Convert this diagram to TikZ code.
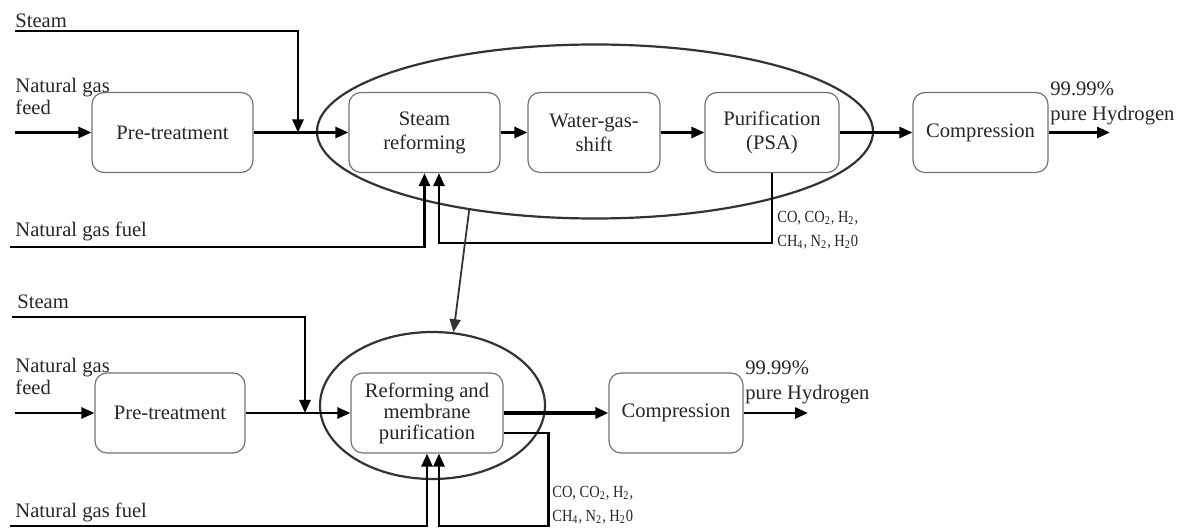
\documentclass[tikz,border=0pt]{standalone}
\usepackage{fontspec}
\setmainfont{Liberation Serif}
\newfontfamily\narrowserif[FakeStretch=0.85]{Liberation Serif}
\usetikzlibrary{arrows.meta,shapes.geometric}
\begin{document}
\begin{tikzpicture}[x=0.5pt,y=-0.5pt,
  font=\fontsize{10.3}{12}\selectfont,
  proc/.style={draw=black!55, line width=0.6pt, rounded corners=6pt, fill=white, align=center, inner sep=0pt, minimum height=40pt, text=black!85},
  flow/.style={line width=1.35pt, -{Triangle[length=6.5pt,width=5.5pt]}},
  ring/.style={draw=black!80, line width=1.1pt, ellipse, inner sep=0pt},
  lbl/.style={anchor=west, inner sep=0pt, align=left, text=black!85},
  small/.style={lbl, font=\narrowserif\fontsize{8.5}{12}\selectfont},
]
\useasboundingbox (0,0) rectangle (1185,529);

% ---------- top process ----------
\node[ring, minimum width=278pt, minimum height=87pt] (e1) at (595,131.5) {};
\node[proc, minimum width=80.5pt] (pre1) at (172.5,132.5) {Pre-treatment};
\node[proc, minimum width=75.5pt] (sr) at (424.5,132.5) {Steam\\reforming};
\node[proc, minimum width=66pt] (wgs) at (594,132.5) {Water-gas-\\shift};
\node[proc, minimum width=67pt] (psa) at (772,132.5) {Purification\\(PSA)};
\node[proc, minimum width=67.5pt] (comp1) at (980.5,132.5) {Compression};

\node[lbl] (steam1) at (15,21) {Steam};
\node[lbl, font=\fontsize{10.3}{11}\selectfont] (feed1) at (15,96) {Natural gas\\feed};
\node[lbl] (fuel1) at (15,231) {Natural gas fuel};
\node[lbl, font=\fontsize{10.3}{12.5}\selectfont] (h1) at (1050,103.5) {99.99\%\\pure Hydrogen};
\node[small] (g1) at (777,230) {CO, CO\textsubscript{2}, H\textsubscript{2},\\CH\textsubscript{4}, N\textsubscript{2}, H\textsubscript{2}0};

\coordinate (fin1) at (15,132.5);
\coordinate (st1) at (15,31);
\coordinate (st1c) at (298,31);
\coordinate (fu1) at (10,247);
\coordinate (rc1) at (439,243);
\coordinate (out1) at (1110,132.5);

\draw[flow] (fin1) -- (pre1.west);
\draw[flow] (pre1.east) -- (sr.west);
\draw[flow] (st1) -- (st1c) -- (st1c |- pre1.east);
\draw[flow] (sr.east) -- (wgs.west);
\draw[flow] (wgs.east) -- (psa.west);
\draw[flow] (psa.east) -- (comp1.west);
\draw[flow] (comp1.east) -- (out1);
\draw[flow] (fu1) -| (sr.south);
\draw[flow] (psa.south) |- (rc1) -- (rc1 |- sr.south);

% ---------- bottom process ----------
\node[ring, minimum width=112.5pt, minimum height=73.5pt] (e2) at (432.5,405.5) {};
\node[proc, minimum width=75pt] (pre2) at (170,413) {Pre-treatment};
\node[proc, minimum width=76pt, font=\fontsize{10.3}{10.5}\selectfont] (rm) at (427,413) {Reforming and\\membrane\\purification};
\node[proc, minimum width=67pt] (comp2) at (676,413) {Compression};

\node[lbl] (steam2) at (17,302) {Steam};
\node[lbl, font=\fontsize{10.3}{11}\selectfont] (feed2) at (15,376) {Natural gas\\feed};
\node[lbl] (fuel2) at (15,512) {Natural gas fuel};
\node[lbl, font=\fontsize{10.3}{12.5}\selectfont] (h2) at (745,382.5) {99.99\%\\pure Hydrogen};
\node[small] (g2) at (552,505) {CO, CO\textsubscript{2}, H\textsubscript{2},\\CH\textsubscript{4}, N\textsubscript{2}, H\textsubscript{2}0};

\coordinate (fin2) at (15,413);
\coordinate (st2) at (12,317);
\coordinate (st2c) at (305,317);
\coordinate (fu2) at (10,526);
\coordinate (rc2) at (439,526);
\coordinate (out2) at (808,413);

\draw[flow] (fin2) -- (pre2.west);
\draw[flow] (pre2.east) -- (rm.west);
\draw[flow] (st2) -- (st2c) -- (st2c |- rm.west);
\draw[flow, line width=2pt] (rm.east) -- (comp2.west);
\draw[flow] (comp2.east) -- (out2);
\draw[flow] (fu2) -| (rm.south);
\draw[flow] ([yshift=-10pt]rm.east) -- ++(45,0) |- (rc2) -- (rc2 |- rm.south);

% ---------- link between the two ----------
\draw[flow, line width=0.9pt, draw=black!80] (e1.212) -- (e2.74);
\end{tikzpicture}
\end{document}
